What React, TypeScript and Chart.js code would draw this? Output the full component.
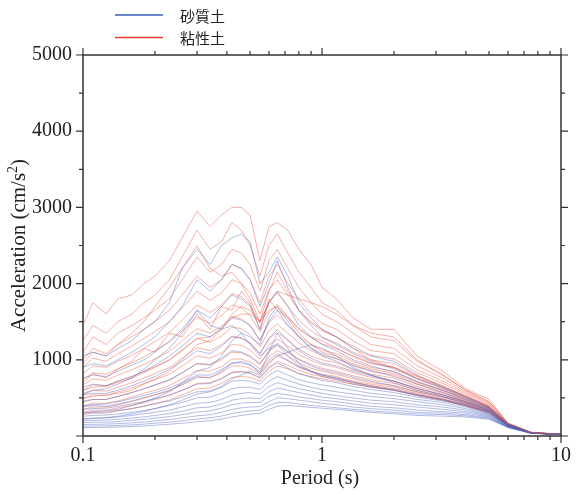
import React, { useEffect, useRef } from "react";
import { Chart, registerables } from "chart.js";

Chart.register(...registerables);

// Periods (s)
const periods = [0.1, 0.11, 0.125, 0.14, 0.16, 0.18, 0.2, 0.23, 0.26, 0.3, 0.34, 0.38, 0.42, 0.46, 0.5, 0.55, 0.6, 0.65, 0.72, 0.8, 0.9, 1.0, 1.15, 1.35, 1.6, 2.0, 2.5, 3.2, 4.0, 5.0, 6.0, 7.5, 10];

// 砂質土 (sand) spectra, cm/s^2
const sand01 = [1050, 1100, 1050, 1150, 1250, 1400, 1500, 1750, 2200, 2450, 2250, 2500, 2600, 2650, 2550, 2000, 2150, 2350, 2100, 1750, 1550, 1400, 1300, 1150, 1050, 980, 800, 640, 520, 380, 160, 45, 22];
const sand02 = [900, 950, 920, 1000, 1100, 1200, 1300, 1500, 1700, 2050, 1900, 2050, 2250, 2200, 2050, 1700, 2000, 2300, 1950, 1650, 1450, 1300, 1200, 1080, 980, 880, 750, 620, 500, 370, 155, 44, 21];
const sand03 = [760, 800, 780, 850, 930, 1000, 1100, 1250, 1400, 1650, 1550, 1700, 1850, 1800, 1700, 1400, 1750, 1900, 1700, 1450, 1300, 1200, 1120, 1000, 920, 840, 720, 600, 490, 360, 150, 43, 21];
const sand04 = [640, 680, 660, 720, 780, 850, 930, 1050, 1180, 1350, 1300, 1420, 1550, 1520, 1450, 1250, 1500, 1650, 1450, 1300, 1150, 1080, 1020, 930, 860, 780, 680, 570, 470, 350, 150, 42, 21];
const sand05 = [540, 560, 560, 600, 660, 720, 780, 880, 980, 1120, 1080, 1180, 1300, 1280, 1220, 1080, 1280, 1400, 1250, 1120, 1020, 960, 920, 850, 790, 720, 630, 540, 450, 340, 145, 41, 20];
const sand06 = [460, 480, 480, 520, 570, 620, 670, 740, 830, 950, 940, 1020, 1120, 1100, 1050, 950, 1120, 1220, 1100, 1000, 920, 870, 830, 770, 720, 660, 580, 510, 430, 330, 140, 40, 20];
const sand07 = [400, 410, 420, 450, 490, 530, 570, 630, 700, 800, 800, 870, 960, 960, 930, 850, 1000, 1080, 990, 900, 840, 800, 760, 710, 660, 610, 540, 480, 410, 320, 140, 40, 20];
const sand08 = [350, 360, 365, 390, 420, 450, 490, 540, 600, 680, 690, 750, 830, 840, 820, 760, 890, 960, 890, 820, 770, 730, 700, 650, 610, 570, 510, 460, 400, 300, 135, 40, 20];
const sand09 = [300, 310, 315, 335, 360, 390, 420, 460, 510, 580, 590, 640, 720, 730, 720, 680, 800, 860, 800, 740, 700, 670, 640, 600, 560, 530, 480, 440, 380, 290, 130, 39, 20];
const sand10 = [260, 270, 275, 290, 310, 335, 360, 400, 440, 500, 510, 560, 620, 640, 640, 610, 720, 780, 730, 680, 640, 610, 580, 550, 520, 490, 450, 410, 360, 280, 130, 38, 20];
const sand11 = [230, 235, 240, 250, 270, 290, 310, 340, 380, 430, 440, 480, 540, 560, 570, 550, 650, 700, 660, 620, 590, 560, 530, 500, 470, 450, 410, 380, 340, 270, 125, 38, 20];
const sand12 = [200, 205, 210, 220, 235, 250, 270, 295, 325, 370, 380, 420, 470, 490, 500, 490, 580, 630, 600, 570, 540, 510, 490, 460, 430, 410, 380, 350, 320, 260, 120, 37, 20];
const sand13 = [175, 180, 182, 190, 205, 218, 235, 255, 280, 315, 330, 365, 410, 430, 440, 440, 520, 560, 540, 510, 490, 470, 450, 420, 390, 370, 340, 320, 300, 250, 120, 37, 20];
const sand14 = [150, 153, 156, 162, 172, 184, 198, 215, 238, 265, 280, 310, 350, 370, 380, 385, 450, 500, 490, 470, 450, 430, 410, 380, 360, 340, 310, 300, 280, 240, 115, 36, 20];
const sand15 = [128, 130, 133, 138, 146, 156, 168, 182, 200, 222, 238, 262, 295, 315, 330, 340, 400, 440, 440, 420, 400, 390, 370, 350, 330, 310, 290, 280, 265, 230, 115, 36, 20];
const sand16 = [110, 112, 114, 118, 124, 132, 142, 154, 168, 186, 200, 222, 250, 270, 285, 300, 350, 390, 400, 390, 375, 365, 350, 330, 310, 290, 270, 260, 250, 220, 110, 35, 20];
const sand17 = [300, 320, 330, 350, 400, 450, 500, 580, 700, 850, 900, 1050, 1250, 1350, 1300, 1200, 1550, 1700, 1500, 1300, 1150, 1050, 980, 880, 800, 720, 620, 540, 450, 340, 145, 41, 20];
const sand18 = [560, 600, 620, 680, 760, 880, 1000, 1150, 1350, 1650, 1450, 1400, 1450, 1350, 1200, 1050, 1150, 1200, 1050, 920, 850, 800, 760, 700, 650, 600, 530, 470, 400, 310, 135, 40, 20];
const sand19 = [220, 230, 240, 260, 290, 320, 360, 410, 470, 550, 580, 650, 750, 800, 850, 800, 950, 1050, 1100, 1150, 1200, 1150, 1050, 900, 800, 700, 600, 520, 440, 330, 140, 40, 20];
const sand20 = [380, 400, 390, 420, 460, 500, 540, 600, 680, 780, 760, 850, 950, 980, 940, 820, 1100, 1350, 1150, 950, 850, 780, 740, 680, 640, 600, 540, 480, 410, 310, 135, 40, 20];

// 粘性土 (clay) spectra, cm/s^2
const clay01 = [1450, 1750, 1600, 1800, 1850, 2000, 2100, 2300, 2600, 2950, 2750, 2900, 3000, 3000, 2900, 2300, 2750, 2800, 2700, 2450, 2250, 1950, 1800, 1550, 1400, 1400, 1050, 850, 620, 480, 170, 50, 22];
const clay02 = [1250, 1450, 1350, 1500, 1600, 1750, 1850, 2050, 2350, 2700, 2450, 2550, 2800, 2700, 2500, 2100, 2500, 2650, 2400, 2150, 1950, 1750, 1650, 1450, 1300, 1250, 980, 800, 600, 450, 165, 48, 22];
const clay03 = [1100, 1300, 1200, 1350, 1450, 1550, 1650, 1800, 2050, 2350, 2150, 2250, 2450, 2400, 2250, 1900, 2300, 2450, 2200, 1950, 1750, 1600, 1500, 1350, 1200, 1150, 920, 760, 580, 430, 160, 47, 22];
const clay04 = [1000, 1150, 1080, 1200, 1300, 1400, 1500, 1650, 1850, 2100, 1950, 2050, 2250, 2200, 2050, 1750, 2100, 2250, 2000, 1800, 1600, 1480, 1400, 1250, 1120, 1080, 870, 720, 560, 420, 160, 46, 22];
const clay05 = [900, 1020, 980, 1080, 1180, 1280, 1370, 1500, 1680, 1900, 1780, 1880, 2050, 2000, 1880, 1600, 1920, 2050, 1850, 1650, 1480, 1380, 1300, 1180, 1060, 1010, 830, 690, 540, 400, 155, 45, 21];
const clay06 = [820, 920, 900, 980, 1060, 1150, 1240, 1360, 1520, 1720, 1620, 1720, 1870, 1830, 1720, 1480, 1760, 1880, 1700, 1520, 1380, 1290, 1220, 1100, 1000, 950, 790, 660, 520, 390, 155, 45, 21];
const clay07 = [740, 830, 810, 880, 960, 1040, 1120, 1230, 1380, 1560, 1480, 1580, 1720, 1680, 1580, 1370, 1620, 1730, 1570, 1410, 1290, 1210, 1150, 1040, 950, 900, 750, 630, 500, 380, 150, 44, 21];
const clay08 = [670, 750, 730, 800, 870, 940, 1010, 1110, 1250, 1410, 1350, 1440, 1570, 1540, 1450, 1260, 1490, 1590, 1450, 1310, 1200, 1130, 1080, 980, 900, 850, 710, 600, 480, 370, 150, 43, 21];
const clay09 = [600, 670, 660, 720, 780, 850, 910, 1000, 1130, 1280, 1230, 1310, 1430, 1410, 1330, 1170, 1380, 1470, 1350, 1220, 1120, 1060, 1010, 920, 850, 800, 680, 580, 460, 360, 145, 43, 21];
const clay10 = [540, 600, 590, 640, 700, 760, 820, 900, 1020, 1160, 1120, 1200, 1310, 1290, 1220, 1080, 1280, 1360, 1260, 1140, 1050, 1000, 960, 870, 810, 760, 650, 560, 450, 350, 145, 42, 21];
const clay11 = [490, 540, 530, 580, 630, 690, 740, 810, 920, 1050, 1020, 1090, 1200, 1190, 1130, 1010, 1190, 1270, 1180, 1070, 990, 940, 900, 830, 770, 720, 620, 540, 440, 340, 140, 42, 20];
const clay12 = [440, 480, 480, 520, 570, 620, 670, 730, 830, 950, 930, 1000, 1100, 1090, 1040, 940, 1110, 1190, 1110, 1010, 940, 890, 850, 790, 740, 690, 600, 520, 430, 330, 140, 41, 20];
const clay13 = [390, 430, 430, 460, 510, 560, 600, 660, 750, 860, 850, 910, 1010, 1010, 970, 880, 1040, 1120, 1050, 960, 890, 850, 810, 750, 700, 660, 580, 510, 420, 320, 140, 41, 20];
const clay14 = [350, 380, 380, 410, 450, 500, 540, 590, 670, 770, 770, 830, 920, 920, 890, 820, 970, 1050, 990, 910, 850, 810, 780, 720, 680, 640, 560, 490, 410, 320, 135, 40, 20];
const clay15 = [310, 340, 340, 370, 400, 440, 480, 530, 600, 690, 700, 760, 840, 850, 830, 770, 910, 980, 930, 860, 810, 780, 750, 700, 660, 620, 550, 480, 400, 310, 135, 40, 20];
const clay16 = [280, 300, 300, 330, 360, 390, 430, 470, 540, 620, 630, 690, 770, 780, 770, 720, 850, 920, 880, 820, 780, 750, 720, 680, 640, 600, 530, 470, 390, 300, 130, 40, 20];
const clay17 = [500, 520, 540, 560, 600, 680, 750, 850, 1000, 1200, 1250, 1400, 1600, 1700, 1650, 1500, 1900, 2150, 1900, 1650, 1500, 1400, 1300, 1150, 1000, 900, 780, 650, 520, 390, 160, 44, 21];
const clay18 = [950, 1100, 1050, 1200, 1350, 1500, 1700, 1950, 2200, 2500, 2200, 2100, 2150, 2000, 1800, 1500, 1650, 1700, 1550, 1350, 1200, 1100, 1050, 950, 880, 820, 700, 600, 480, 360, 150, 43, 21];
const clay19 = [600, 640, 650, 700, 760, 830, 900, 1000, 1120, 1280, 1300, 1400, 1550, 1600, 1600, 1500, 1750, 1900, 1850, 1800, 1750, 1700, 1600, 1450, 1350, 1300, 1000, 800, 600, 450, 165, 46, 22];
const clay20 = [700, 820, 760, 880, 980, 1150, 1100, 1350, 1300, 1600, 1400, 1700, 1650, 1900, 1750, 1400, 1800, 1650, 1550, 1400, 1300, 1250, 1150, 1050, 960, 900, 760, 640, 510, 380, 150, 44, 21];

const sandSeries = [sand01, sand02, sand03, sand04, sand05, sand06, sand07, sand08, sand09, sand10, sand11, sand12, sand13, sand14, sand15, sand16, sand17, sand18, sand19, sand20];
const claySeries = [clay01, clay02, clay03, clay04, clay05, clay06, clay07, clay08, clay09, clay10, clay11, clay12, clay13, clay14, clay15, clay16, clay17, clay18, clay19, clay20];

const legendLabels = ["砂質土", "粘性土"];
const xTickValues = [0.1, 1, 10];
const yTickValues = [0, 1000, 2000, 3000, 4000, 5000];
const xTitle = "Period (s)";
const yTitleMain = "Acceleration (cm/s";
const yTitleSup = "2";

const SAND_LINE = "rgba(70, 95, 190, 0.42)";
const CLAY_LINE = "rgba(238, 85, 60, 0.45)";
const SAND_LEGEND = "#3a62b8";
const CLAY_LEGEND = "#ee3b2f";
const SERIF = "'Liberation Serif', 'Times New Roman', serif";

export default function App() {
  const ref = useRef<HTMLCanvasElement>(null);

  useEffect(() => {
    const canvas = ref.current;
    if (!canvas) return;

    const datasets: any[] = [];
    const n = Math.max(sandSeries.length, claySeries.length);
    for (let i = 0; i < n; i++) {
      if (sandSeries[i]) {
        datasets.push({
          label: legendLabels[0],
          data: sandSeries[i].map((v, j) => ({ x: periods[j], y: v })),
          borderColor: SAND_LINE,
          borderWidth: 1,
          pointRadius: 0,
          tension: 0,
          fill: false,
        });
      }
      if (claySeries[i]) {
        datasets.push({
          label: legendLabels[1],
          data: claySeries[i].map((v, j) => ({ x: periods[j], y: v })),
          borderColor: CLAY_LINE,
          borderWidth: 1,
          pointRadius: 0,
          tension: 0,
          fill: false,
        });
      }
    }

    const framePlugin = {
      id: "frame",
      afterDraw(chart: any) {
        const c = chart.ctx as CanvasRenderingContext2D;
        const { left, right, top, bottom } = chart.chartArea;
        const xs = chart.scales.x;
        const ys = chart.scales.y;
        c.save();
        c.strokeStyle = "#333";
        c.lineWidth = 1.5;
        c.strokeRect(left, top, right - left, bottom - top);
        c.lineWidth = 1.2;
        c.beginPath();
        for (let d = 0.1; d < 10; d *= 10) {
          for (let k = 1; k <= 9; k++) {
            const px = xs.getPixelForValue(d * k);
            const len = k === 1 ? 7 : 4;
            c.moveTo(px, bottom);
            c.lineTo(px, bottom + len);
            c.moveTo(px, top);
            c.lineTo(px, top - len);
          }
        }
        const pxEnd = xs.getPixelForValue(10);
        c.moveTo(pxEnd, bottom);
        c.lineTo(pxEnd, bottom + 7);
        c.moveTo(pxEnd, top);
        c.lineTo(pxEnd, top - 7);
        for (let v = 0; v <= 5000; v += 500) {
          const py = ys.getPixelForValue(v);
          const len = v % 1000 === 0 ? 7 : 4;
          c.moveTo(left, py);
          c.lineTo(left - len, py);
          c.moveTo(right, py);
          c.lineTo(right + len, py);
        }
        c.stroke();

        c.fillStyle = "#222";
        c.font = `20px ${SERIF}`;
        c.textAlign = "center";
        c.textBaseline = "middle";
        c.fillText(xTitle, (left + right) / 2 - 2, 479);

        c.save();
        c.translate(19, (top + bottom) / 2);
        c.rotate(-Math.PI / 2);
        c.textAlign = "left";
        c.font = `21px ${SERIF}`;
        const w1 = c.measureText(yTitleMain).width;
        const w3 = c.measureText(")").width;
        c.font = `14px ${SERIF}`;
        const w2 = c.measureText(yTitleSup).width;
        const start = -(w1 + w2 + w3) / 2;
        c.font = `21px ${SERIF}`;
        c.fillText(yTitleMain, start, 0);
        c.font = `14px ${SERIF}`;
        c.fillText(yTitleSup, start + w1, -6);
        c.font = `21px ${SERIF}`;
        c.fillText(")", start + w1 + w2, 0);
        c.restore();

        const legendColors = [SAND_LEGEND, CLAY_LEGEND];
        const legendY = [15, 37.5];
        c.lineWidth = 1.6;
        c.font = `15px 'Noto Sans CJK JP', 'Noto Sans CJK SC', sans-serif`;
        c.textAlign = "left";
        c.textBaseline = "middle";
        legendLabels.forEach((lab, i) => {
          c.strokeStyle = legendColors[i];
          c.beginPath();
          c.moveTo(115, legendY[i]);
          c.lineTo(163, legendY[i]);
          c.stroke();
          c.fillStyle = "#222";
          c.fillText(lab, 180, legendY[i] + 1);
        });
        c.restore();
      },
    };

    const chart = new Chart(canvas, {
      type: "line",
      data: { datasets },
      options: {
        responsive: false,
        animation: false,
        events: [],
        layout: { padding: { top: 55, right: 17, left: 0, bottom: 0 } },
        plugins: { legend: { display: false }, tooltip: { enabled: false } },
        scales: {
          x: {
            type: "logarithmic",
            min: 0.1,
            max: 10,
            afterFit: (s: any) => {
              s.height = 59;
            },
            afterBuildTicks: (s: any) => {
              s.ticks = xTickValues.map((v) => ({ value: v }));
            },
            grid: { display: false, drawTicks: false },
            border: { display: false },
            ticks: {
              autoSkip: false,
              maxRotation: 0,
              padding: 8,
              color: "#222",
              font: { family: SERIF, size: 20 },
              callback: (v: any) => String(xTickValues.find((t) => Math.abs(t - Number(v)) / t < 1e-6) ?? ""),
            },
          },
          y: {
            type: "linear",
            min: 0,
            max: 5000,
            afterFit: (s: any) => {
              s.width = 83;
            },
            afterBuildTicks: (s: any) => {
              s.ticks = yTickValues.map((v) => ({ value: v }));
            },
            grid: { display: false, drawTicks: false },
            border: { display: false },
            ticks: {
              padding: 11,
              color: "#222",
              font: { family: SERIF, size: 20 },
              callback: (v: any) => (Number(v) === 0 ? "" : String(v)),
            },
          },
        },
      },
      plugins: [framePlugin],
    });

    return () => chart.destroy();
  }, []);

  return (
    <div style={{ position: "fixed", left: 0, top: 0, width: 579, height: 495, background: "#fff" }}>
      <canvas ref={ref} width={579} height={495} style={{ display: "block", width: 579, height: 495 }} />
    </div>
  );
}
